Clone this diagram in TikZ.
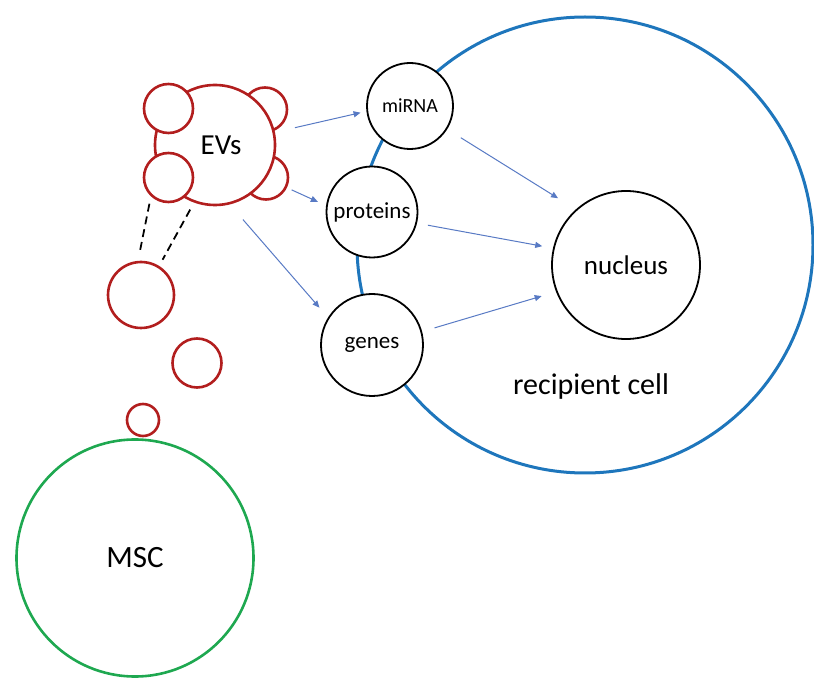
\documentclass[tikz,border=0pt]{standalone}
\usepackage{fontspec}
\setmainfont{Carlito}
\usetikzlibrary{arrows.meta}
\definecolor{evred}{RGB}{178,30,30}
\definecolor{mscgreen}{RGB}{30,168,80}
\definecolor{cellblue}{RGB}{30,118,188}
\definecolor{arrowblue}{RGB}{88,122,196}

\begin{document}
\begin{tikzpicture}[x=1pt,y=1pt,
    vesicle/.style={circle,draw=evred,line width=2.6pt,fill=white,inner sep=0pt},
    cargo/.style={circle,draw=black,line width=1.8pt,fill=white,inner sep=0pt},
    flow/.style={-{Triangle[length=7pt,width=6pt]},draw=arrowblue,line width=1pt},
    link/.style={black,line width=1.8pt,dash pattern=on 8pt off 5pt}]
    \useasboundingbox (0,0) rectangle (814,678);

    % cellula ricevente
    \node[circle,draw=cellblue,line width=3pt,minimum size=456pt,inner sep=0pt] (cell) at (585,433) {};
    \node[font=\fontsize{30}{36}\selectfont] (celllabel) at (591,291) {recipient cell};

    % nucleo e contenuto
    \node[cargo,minimum size=148pt,font=\fontsize{27}{32}\selectfont] (nucleus) at (626,413) {nucleus};
    \node[cargo,minimum size=86pt,font=\fontsize{20}{24}\selectfont] (mirna) at (410,572) {miRNA};
    \node[cargo,minimum size=91pt,font=\fontsize{23}{28}\selectfont] (proteins) at (372,466) {proteins};
    \node[cargo,minimum size=102pt,font=\fontsize{23}{28}\selectfont] (genes) at (372,333) {genes};

    % vescicole extracellulari
    \node[vesicle,minimum size=44pt] (lobetr) at (265,568.5) {};
    \node[vesicle,minimum size=44pt] (lobebr) at (266,500.5) {};
    \node[vesicle,minimum size=120pt,font=\fontsize{29}{35}\selectfont] (ev) at (215,533) {\hspace*{12pt}EVs};
    \node[vesicle,minimum size=49pt] (lobetl) at (168.5,569.5) {};
    \node[vesicle,minimum size=49pt] (lobebl) at (168.5,500.5) {};

    \node[vesicle,minimum size=66pt] (ves1) at (141,383) {};
    \node[vesicle,minimum size=49pt] (ves2) at (197,315) {};
    \node[vesicle,minimum size=32pt] (ves3) at (143,258) {};

    % cellula staminale
    \node[circle,draw=mscgreen,line width=2.6pt,minimum size=237pt,inner sep=0pt,
        font=\fontsize{31}{37}\selectfont] (msc) at (135,120) {MSC};

    % linee tratteggiate
    \draw[link,shorten <=7.5pt,shorten >=9pt] (lobebl.227) -- (ves1.95);
    \draw[link,shorten <=8pt,shorten >=7pt] (ev.250) -- (ves1.58);

    % frecce
    \draw[flow,shorten <=20.5pt,shorten >=6pt] (ev.12) -- (mirna.187);
    \draw[flow,shorten <=27.7pt,shorten >=9pt] (ev.-33) -- (proteins.172);
    \draw[flow,shorten <=20pt,shorten >=13pt] (ev.-76) -- (genes.148);
    \draw[flow,shorten <=16pt,shorten >=21pt] (mirna.-32) -- (nucleus.132);
    \draw[flow,shorten <=11pt,shorten >=11pt] (proteins.-14) -- (nucleus.167);
    \draw[flow,shorten <=13pt,shorten >=15pt] (genes.15) -- (nucleus.201);
\end{tikzpicture}
\end{document}
